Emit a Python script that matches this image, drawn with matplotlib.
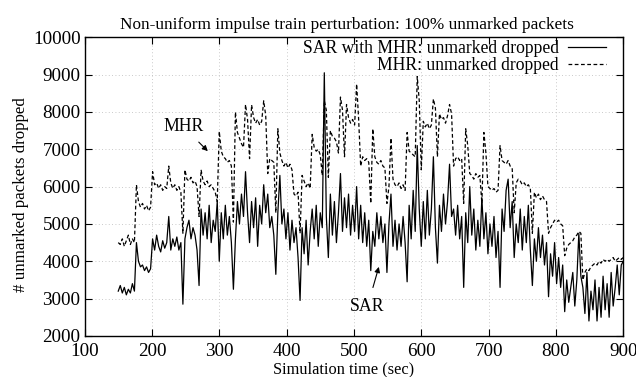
import numpy as np
import matplotlib
matplotlib.use("Agg")
import matplotlib.pyplot as plt

plt.rcParams['font.family'] = ['Liberation Serif', 'DejaVu Serif']

# time grid: 150 s to 900 s, one sample every 3 s
t_start, t_step = 150, 3

# rows of 10 samples (30 s each), last single value at 900 s
sar_values = [
    3200, 3350, 3150, 3300, 3100, 3250, 3150, 3400, 3200, 4500,   # 150
    4000, 3850, 3900, 3750, 3850, 3700, 3800, 4600, 4300, 4700,   # 180
    4400, 4250, 4550, 4350, 4500, 5200, 4300, 4600, 4400, 4650,   # 210
    4300, 4500, 2850, 4600, 4900, 5100, 4600, 4900, 4700, 4300,   # 240
    3350, 5400, 4700, 5300, 4600, 5500, 4500, 5100, 4800, 5600,   # 270
    4000, 5300, 4600, 5500, 4700, 5200, 4500, 3250, 4600, 5600,   # 300
    5000, 5800, 5200, 6400, 5300, 4500, 5600, 4900, 5700, 4400,   # 330
    5500, 5000, 6050, 5300, 5800, 4900, 5200, 4700, 3650, 5300,   # 360
    6300, 5000, 5400, 4600, 5300, 4300, 5100, 4500, 4900, 4100,   # 390
    2950, 4900, 4200, 5100, 3900, 4800, 5400, 4600, 5500, 4400,   # 420
    5300, 4900, 9050, 5200, 4100, 5800, 4700, 5600, 4500, 5300,   # 450
    6350, 4800, 5700, 4900, 5800, 4700, 5500, 4800, 6000, 4600,   # 480
    5500, 4500, 5300, 4400, 5100, 3750, 4800, 4400, 5300, 4600,   # 510
    5200, 4500, 5000, 3700, 5000, 5800, 4400, 5100, 4300, 5000,   # 540
    4400, 5200, 4500, 3450, 5500, 4600, 5900, 4800, 7100, 5400,   # 570
    4400, 5600, 4600, 5900, 4700, 5400, 6800, 4900, 3950, 5500,   # 600
    4800, 5800, 5000, 5600, 6600, 5200, 5400, 4700, 5500, 4600,   # 630
    5200, 3300, 5300, 4500, 6000, 4700, 5400, 4300, 5100, 4400,   # 660
    5700, 4600, 5300, 4200, 5000, 4400, 5200, 4100, 4800, 3300,   # 690
    5400, 4800, 5900, 6200, 4900, 5600, 4100, 5000, 4500, 5400,   # 720
    4300, 5200, 4500, 5500, 4300, 3350, 4600, 4000, 4900, 4100,   # 750
    4700, 3900, 4500, 3050, 4200, 3600, 4500, 3400, 4100, 3300,   # 780
    3900, 2650, 3500, 2900, 3300, 3700, 2800, 3500, 4750, 3600,   # 810
    3300, 2600, 3700, 2400, 3200, 2700, 3500, 2400, 3300, 2500,   # 840
    3600, 2700, 3400, 2500, 3700, 2800, 3300, 3900, 3100, 3900,   # 870
    4000,                                                         # 900
]

mhr_values = [
    4500, 4450, 4600, 4400, 4550, 4700, 4450, 4600, 4500, 6050,   # 150
    5600, 5450, 5550, 5400, 5500, 5350, 5450, 6400, 6050, 6100,   # 180
    5950, 6050, 5900, 6000, 5950, 6550, 6100, 5950, 6050, 5900,   # 210
    6000, 5850, 4750, 6450, 6200, 6150, 6250, 6100, 6150, 6000,   # 240
    5200, 6450, 6150, 6050, 6150, 6000, 6050, 5950, 5850, 5600,   # 270
    7480, 6950, 6800, 6750, 6650, 6700, 6550, 5050, 8000, 7450,   # 300
    7300, 7150, 7050, 8200, 7800, 6750, 8190, 7850, 7700, 7800,   # 330
    7650, 7750, 8300, 7900, 6350, 6750, 6700, 6650, 5300, 7550,   # 360
    6900, 6700, 6550, 6650, 6500, 6600, 6450, 5800, 5750, 5850,   # 390
    4750, 6300, 6150, 6000, 6100, 5950, 7400, 7050, 6950, 7000,   # 420
    6850, 6300, 8300, 8050, 6250, 7500, 7350, 7300, 7200, 6900,   # 450
    8400, 8050, 6800, 8200, 7850, 7700, 7800, 7650, 8750, 7800,   # 480
    6550, 6800, 6700, 6750, 6650, 5550, 7550, 6800, 6650, 6600,   # 510
    6700, 6550, 6500, 5550, 6000, 7300, 6200, 6050, 6000, 6100,   # 540
    5950, 6050, 5900, 7450, 6950, 6900, 6850, 6800, 8950, 8300,   # 570
    6450, 7750, 7600, 7700, 7550, 7650, 8350, 8100, 6800, 7950,   # 600
    7800, 7850, 7700, 7900, 8200, 7950, 6550, 6750, 6800, 6700,   # 630
    6750, 5550, 7550, 7100, 6350, 6300, 6200, 6350, 6250, 6300,   # 660
    5550, 7450, 6900, 6000, 5950, 5900, 5950, 5850, 5900, 7100,   # 690
    6700, 6650, 6600, 6700, 6550, 6500, 5300, 6100, 6200, 6150,   # 720
    6050, 6100, 6000, 6050, 5950, 4750, 5850, 5700, 5800, 5650,   # 750
    5750, 5650, 5600, 4750, 4900, 5000, 5100, 5050, 5100, 5000,   # 780
    4950, 4150, 4350, 4450, 4500, 4550, 4650, 4700, 4800, 4750,   # 810
    3500, 3700, 3800, 3750, 3850, 3900, 3950, 3900, 4000, 3950,   # 840
    4050, 4000, 4050, 4000, 4050, 4100, 4000, 4050, 4100, 4050,   # 870
    4100,                                                         # 900
]

sar_time = t_start + t_step * np.arange(len(sar_values))
mhr_time = t_start + t_step * np.arange(len(mhr_values))

xticks = [100, 200, 300, 400, 500, 600, 700, 800, 900]
yticks = [2000, 3000, 4000, 5000, 6000, 7000, 8000, 9000, 10000]

fig = plt.figure(figsize=(6.36, 3.77), dpi=100)
ax = fig.add_axes([0.133, 0.109, 0.847, 0.792])

ax.plot(sar_time, sar_values, color='black', lw=0.9, linestyle='-',
        label='SAR with MHR: unmarked dropped')
ax.plot(mhr_time, mhr_values, color='black', lw=0.9, linestyle=(0, (3, 2)),
        label='MHR: unmarked dropped')

ax.set_xlim(100, 900)
ax.set_ylim(2000, 10000)
ax.set_xticks(xticks)
ax.set_yticks(yticks)
ax.tick_params(direction='in', top=True, right=True, length=5, width=0.8,
               labelsize=13.8)
ax.tick_params(axis='x', pad=5)
ax.tick_params(axis='y', pad=3)
ax.grid(True, linestyle=(0, (1, 3)), color='#b8b8b8', lw=0.6)
for s in ax.spines.values():
    s.set_linewidth(1.0)

ax.set_title('Non-uniform impulse train perturbation: 100% unmarked packets',
             fontsize=12.4, pad=6, x=0.487)
ax.set_xlabel('Simulation time (sec)', fontsize=11.8, labelpad=0)
ax.xaxis.set_label_coords(0.48, -0.085)
ax.set_ylabel('# unmarked packets dropped', fontsize=12.2)
ax.yaxis.set_label_coords(-0.104, 0.474)

leg = ax.legend(loc='upper right', bbox_to_anchor=(0.967, 0.99),
                frameon=False, markerfirst=False, fontsize=12.7,
                handlelength=2.15, borderaxespad=0, borderpad=0,
                labelspacing=0.0, handletextpad=0.5)

ax.annotate('MHR', xy=(283, 6950), xytext=(247, 7600),
            fontsize=12.8, ha='center', va='center',
            arrowprops=dict(arrowstyle='-|>', color='black', lw=0.8,
                            mutation_scale=8, shrinkA=4, shrinkB=0))
ax.annotate('SAR', xy=(537, 3850), xytext=(520, 2780),
            fontsize=12.8, ha='center', va='center',
            arrowprops=dict(arrowstyle='-|>', color='black', lw=0.8,
                            mutation_scale=8, shrinkA=6, shrinkB=0))

fig.savefig('out.png', dpi=100)
